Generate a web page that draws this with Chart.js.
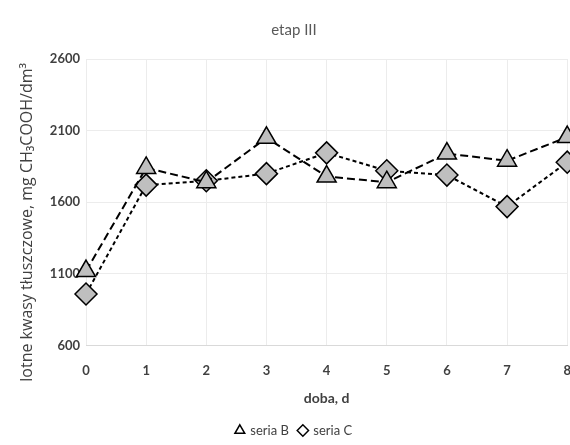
<!DOCTYPE html>
<html>
<head>
<meta charset="utf-8">
<script src="https://cdn.jsdelivr.net/npm/chart.js@4/dist/chart.umd.min.js"></script>
<style>
html,body{margin:0;padding:0;background:#fff;overflow:hidden;}
#wrap{width:588px;height:445px;position:relative;}
</style>
</head>
<body>
<div id="wrap"><canvas id="c"></canvas></div>
<script>
const days = [0, 1, 2, 3, 4, 5, 6, 7, 8];
const seriesB = [1120, 1840, 1740, 2050, 1780, 1740, 1940, 1890, 2055];
const seriesC = [960, 1720, 1750, 1800, 1945, 1820, 1790, 1570, 1880];
const yTicks = [600, 1100, 1600, 2100, 2600];
const titleText = 'etap III';
const xTitle = 'doba, d';
const yTitle = 'lotne kwasy tłuszczowe, mg CH₃COOH/dm³';

const FONT = 'Lato, "Open Sans", sans-serif';

new Chart(document.getElementById('c'), {
  type: 'line',
  data: {
    datasets: [
      {
        label: 'seria B',
        data: days.map((d, i) => ({x: d, y: seriesB[i]})),
        borderColor: '#000',
        borderWidth: 2,
        borderDash: [8, 4],
        pointStyle: 'triangle',
        pointRadius: 11,
        pointBackgroundColor: '#bfbfbf',
        pointBorderColor: '#000',
        pointBorderWidth: 1.5,
        tension: 0,
        clip: false
      },
      {
        label: 'seria C',
        data: days.map((d, i) => ({x: d, y: seriesC[i]})),
        borderColor: '#000',
        borderWidth: 2,
        borderDash: [4, 3],
        pointStyle: 'rectRot',
        pointRadius: 11,
        pointBackgroundColor: '#bfbfbf',
        pointBorderColor: '#000',
        pointBorderWidth: 1.5,
        tension: 0,
        clip: false
      }
    ]
  },
  options: {
    responsive: true,
    maintainAspectRatio: false,
    animation: false,
    layout: {padding: {left: 0, right: 0, top: 17, bottom: -2}},
    plugins: {
      title: {
        display: true,
        text: titleText,
        color: '#595959',
        font: {family: FONT, size: 15, weight: 'normal'},
        padding: {top: 4, bottom: 20}
      },
      legend: {
        position: 'bottom',
        labels: {
          usePointStyle: true,
          boxWidth: 8,
          boxHeight: 8,
          color: '#404040',
          font: {family: FONT, size: 13},
          padding: 10,
          generateLabels: (chart) => Chart.defaults.plugins.legend.labels.generateLabels(chart).map(l => Object.assign(l, {fillStyle: '#fff', strokeStyle: '#000', lineWidth: 1.5, lineDash: []}))
        }
      },
      tooltip: {enabled: false}
    },
    scales: {
      x: {
        type: 'linear',
        min: 0,
        max: 8,
        afterBuildTicks: (s) => { s.ticks = days.map(v => ({value: v})); },
        grid: {color: '#ececec', drawTicks: false},
        border: {color: '#d9d9d9'},
        ticks: {color: '#404040', font: {family: FONT, size: 13, weight: 'bold'}, padding: 17, callback: (v) => String(v)},
        title: {display: true, text: xTitle, color: '#404040', font: {family: FONT, size: 14, weight: 'bold'}, padding: {top: -5, bottom: 7}}
      },
      y: {
        min: 600,
        max: 2600,
        afterBuildTicks: (s) => { s.ticks = yTicks.map(v => ({value: v})); },
        afterFit: (s) => { s.width = 86; },
        grid: {color: '#ececec', drawTicks: false},
        border: {display: false},
        ticks: {color: '#404040', font: {family: FONT, size: 13, weight: 'bold'}, padding: 6, callback: (v) => String(v)},
        title: {display: true, text: yTitle + '\u2003\u2003\u2002', color: '#404040', font: {family: '"Open Sans", sans-serif', size: 16, weight: 'normal'}, padding: {top: 18, bottom: 0}}
      }
    }
  }
});
</script>
</body>
</html>
